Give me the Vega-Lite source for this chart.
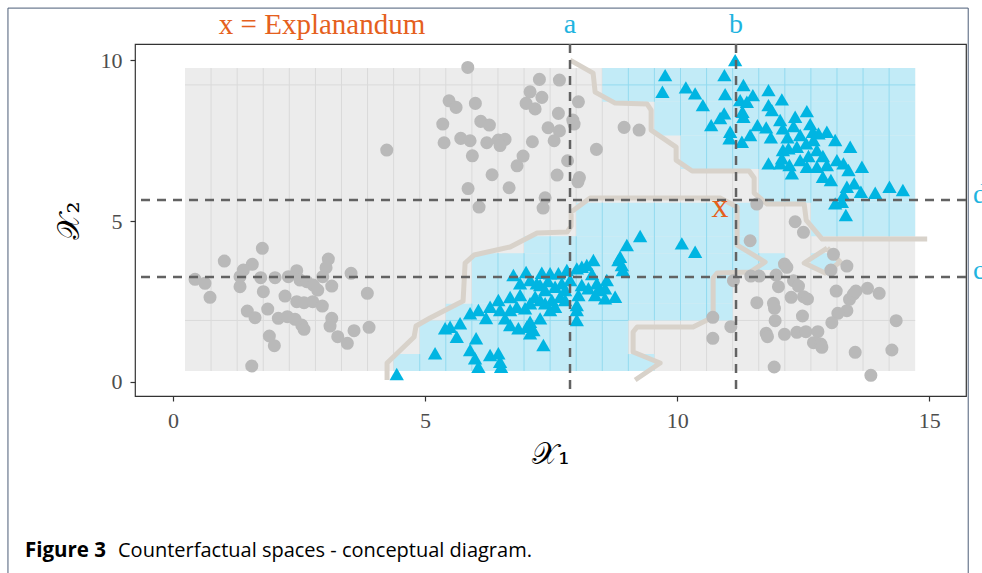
{
  "$schema": "https://vega.github.io/schema/vega-lite/v6.json",
  "width": 831,
  "height": 352,
  "autosize": {"type": "none"},
  "padding": {"left": 135, "top": 44, "right": 16, "bottom": 177},
  "background": "white",
  "config": {
    "view": {"stroke": "#333333", "strokeWidth": 1.2},
    "axisX": {"grid": false, "domain": false, "tickColor": "#333333", "tickSize": 5, "tickWidth": 1.2, "labelFont": "Liberation Serif", "labelFontSize": 22, "labelColor": "#4d4d4d", "labelPadding": 9, "titleFont": "DejaVu Serif", "titleFontSize": 30, "titleFontWeight": "normal", "titleColor": "#000000", "titlePadding": 8},
    "axisY": {"grid": false, "domain": false, "tickColor": "#333333", "tickSize": 5, "tickWidth": 1.2, "labelFont": "Liberation Serif", "labelFontSize": 22, "labelColor": "#4d4d4d", "labelPadding": 8, "titleFont": "DejaVu Serif", "titleFontSize": 30, "titleFontWeight": "normal", "titleColor": "#000000", "titlePadding": 16}
  },
  "datasets": {
    "bg": [{"x1": 0.238, "x2": 14.722, "y1": 0.343, "y2": 9.752}],
    "cyantiles": [
      {"x1": 8.515, "x2": 14.722, "y1": 8.707, "y2": 9.752},
      {"x1": 9.549, "x2": 14.722, "y1": 7.661, "y2": 8.707},
      {"x1": 10.067, "x2": 14.722, "y1": 6.616, "y2": 7.661},
      {"x1": 11.619, "x2": 14.722, "y1": 5.570, "y2": 6.616},
      {"x1": 12.653, "x2": 14.722, "y1": 4.525, "y2": 5.570},
      {"x1": 7.998, "x2": 11.619, "y1": 4.525, "y2": 5.570},
      {"x1": 6.963, "x2": 11.619, "y1": 4.002, "y2": 4.525},
      {"x1": 5.928, "x2": 12.136, "y1": 3.480, "y2": 4.002},
      {"x1": 5.928, "x2": 11.101, "y1": 2.434, "y2": 3.480},
      {"x1": 5.411, "x2": 11.101, "y1": 1.912, "y2": 2.434},
      {"x1": 4.894, "x2": 9.032, "y1": 0.866, "y2": 1.912},
      {"x1": 4.376, "x2": 9.549, "y1": 0.343, "y2": 0.866},
      {"x1": 12.653, "x2": 13.171, "y1": 3.480, "y2": 4.002}
    ],
    "grid": [
      {"x": 0.755, "x2": 0.755, "y": 9.752, "y2": 0.343, "t": "g"},
      {"x": 1.273, "x2": 1.273, "y": 9.752, "y2": 0.343, "t": "g"},
      {"x": 1.790, "x2": 1.790, "y": 9.752, "y2": 0.343, "t": "g"},
      {"x": 2.307, "x2": 2.307, "y": 9.752, "y2": 0.343, "t": "g"},
      {"x": 2.825, "x2": 2.825, "y": 9.752, "y2": 0.343, "t": "g"},
      {"x": 3.342, "x2": 3.342, "y": 9.752, "y2": 0.343, "t": "g"},
      {"x": 3.859, "x2": 3.859, "y": 9.752, "y2": 0.343, "t": "g"},
      {"x": 4.376, "x2": 4.376, "y": 9.752, "y2": 0.343, "t": "g"},
      {"x": 4.894, "x2": 4.894, "y": 9.752, "y2": 0.343, "t": "g"},
      {"x": 5.411, "x2": 5.411, "y": 9.752, "y2": 0.343, "t": "g"},
      {"x": 5.928, "x2": 5.928, "y": 9.752, "y2": 0.343, "t": "g"},
      {"x": 6.446, "x2": 6.446, "y": 9.752, "y2": 0.343, "t": "g"},
      {"x": 6.963, "x2": 6.963, "y": 9.752, "y2": 0.343, "t": "g"},
      {"x": 7.480, "x2": 7.480, "y": 9.752, "y2": 0.343, "t": "g"},
      {"x": 7.998, "x2": 7.998, "y": 9.752, "y2": 0.343, "t": "g"},
      {"x": 8.515, "x2": 8.515, "y": 9.752, "y2": 0.343, "t": "g"},
      {"x": 9.032, "x2": 9.032, "y": 9.752, "y2": 0.343, "t": "g"},
      {"x": 9.549, "x2": 9.549, "y": 9.752, "y2": 0.343, "t": "g"},
      {"x": 10.067, "x2": 10.067, "y": 9.752, "y2": 0.343, "t": "g"},
      {"x": 10.584, "x2": 10.584, "y": 9.752, "y2": 0.343, "t": "g"},
      {"x": 11.101, "x2": 11.101, "y": 9.752, "y2": 0.343, "t": "g"},
      {"x": 11.619, "x2": 11.619, "y": 9.752, "y2": 0.343, "t": "g"},
      {"x": 12.136, "x2": 12.136, "y": 9.752, "y2": 0.343, "t": "g"},
      {"x": 12.653, "x2": 12.653, "y": 9.752, "y2": 0.343, "t": "g"},
      {"x": 13.171, "x2": 13.171, "y": 9.752, "y2": 0.343, "t": "g"},
      {"x": 13.688, "x2": 13.688, "y": 9.752, "y2": 0.343, "t": "g"},
      {"x": 14.205, "x2": 14.205, "y": 9.752, "y2": 0.343, "t": "g"},
      {"x": 0.238, "x2": 14.722, "y": 9.229, "y2": 9.229, "t": "g"},
      {"x": 0.238, "x2": 14.722, "y": 1.912, "y2": 1.912, "t": "g"},
      {"x": 4.894, "x2": 4.894, "y": 0.866, "y2": 0.343, "t": "c"},
      {"x": 5.411, "x2": 5.411, "y": 1.912, "y2": 0.343, "t": "c"},
      {"x": 5.928, "x2": 5.928, "y": 2.434, "y2": 0.343, "t": "c"},
      {"x": 6.446, "x2": 6.446, "y": 4.002, "y2": 0.343, "t": "c"},
      {"x": 6.963, "x2": 6.963, "y": 4.002, "y2": 0.343, "t": "c"},
      {"x": 7.480, "x2": 7.480, "y": 4.525, "y2": 0.343, "t": "c"},
      {"x": 7.998, "x2": 7.998, "y": 4.525, "y2": 0.343, "t": "c"},
      {"x": 8.515, "x2": 8.515, "y": 5.570, "y2": 0.343, "t": "c"},
      {"x": 9.032, "x2": 9.032, "y": 9.752, "y2": 8.707, "t": "c"},
      {"x": 9.032, "x2": 9.032, "y": 5.570, "y2": 1.912, "t": "c"},
      {"x": 9.032, "x2": 9.032, "y": 0.866, "y2": 0.343, "t": "c"},
      {"x": 9.549, "x2": 9.549, "y": 9.752, "y2": 8.707, "t": "c"},
      {"x": 9.549, "x2": 9.549, "y": 5.570, "y2": 1.912, "t": "c"},
      {"x": 10.067, "x2": 10.067, "y": 9.752, "y2": 7.661, "t": "c"},
      {"x": 10.067, "x2": 10.067, "y": 5.570, "y2": 1.912, "t": "c"},
      {"x": 10.584, "x2": 10.584, "y": 9.752, "y2": 6.616, "t": "c"},
      {"x": 10.584, "x2": 10.584, "y": 5.570, "y2": 1.912, "t": "c"},
      {"x": 11.101, "x2": 11.101, "y": 9.752, "y2": 6.616, "t": "c"},
      {"x": 11.101, "x2": 11.101, "y": 5.570, "y2": 3.480, "t": "c"},
      {"x": 11.619, "x2": 11.619, "y": 9.752, "y2": 6.616, "t": "c"},
      {"x": 11.619, "x2": 11.619, "y": 4.002, "y2": 3.480, "t": "c"},
      {"x": 12.136, "x2": 12.136, "y": 9.752, "y2": 5.570, "t": "c"},
      {"x": 12.653, "x2": 12.653, "y": 9.752, "y2": 5.570, "t": "c"},
      {"x": 13.171, "x2": 13.171, "y": 9.752, "y2": 4.525, "t": "c"},
      {"x": 13.688, "x2": 13.688, "y": 9.752, "y2": 4.525, "t": "c"},
      {"x": 14.205, "x2": 14.205, "y": 9.752, "y2": 4.525, "t": "c"},
      {"x": 8.515, "x2": 14.722, "y": 9.229, "y2": 9.229, "t": "c"},
      {"x": 5.411, "x2": 9.032, "y": 1.912, "y2": 1.912, "t": "c"}
    ],
    "contours": [
      {"p": "A", "o": 1, "x": 7.877, "y": 10.0}, {"p": "A", "o": 2, "x": 8.333, "y": 9.596}, {"p": "A", "o": 3, "x": 8.373, "y": 9.006}, {"p": "A", "o": 4, "x": 8.770, "y": 8.665}, {"p": "A", "o": 5, "x": 9.405, "y": 8.634}, {"p": "A", "o": 6, "x": 9.484, "y": 8.447}, {"p": "A", "o": 7, "x": 9.484, "y": 7.826}, {"p": "A", "o": 8, "x": 9.980, "y": 7.298}, {"p": "A", "o": 9, "x": 9.980, "y": 6.894}, {"p": "A", "o": 10, "x": 10.298, "y": 6.553}, {"p": "A", "o": 11, "x": 11.429, "y": 6.553}, {"p": "A", "o": 12, "x": 11.528, "y": 6.335}, {"p": "A", "o": 13, "x": 11.528, "y": 5.870}, {"p": "A", "o": 14, "x": 11.786, "y": 5.528}, {"p": "A", "o": 15, "x": 12.520, "y": 5.528}, {"p": "A", "o": 16, "x": 12.560, "y": 5.031}, {"p": "A", "o": 17, "x": 12.877, "y": 4.441}, {"p": "A", "o": 18, "x": 14.960, "y": 4.441},
      {"p": "B", "o": 1, "x": 4.246, "y": 0.062}, {"p": "B", "o": 2, "x": 4.246, "y": 0.590}, {"p": "B", "o": 3, "x": 4.782, "y": 1.398}, {"p": "B", "o": 4, "x": 4.821, "y": 1.739}, {"p": "B", "o": 5, "x": 5.099, "y": 1.988}, {"p": "B", "o": 6, "x": 5.754, "y": 2.516}, {"p": "B", "o": 7, "x": 5.794, "y": 3.696}, {"p": "B", "o": 8, "x": 5.972, "y": 3.944}, {"p": "B", "o": 9, "x": 6.687, "y": 4.193}, {"p": "B", "o": 10, "x": 7.222, "y": 4.627}, {"p": "B", "o": 11, "x": 7.817, "y": 4.658}, {"p": "B", "o": 12, "x": 7.897, "y": 4.845}, {"p": "B", "o": 13, "x": 7.897, "y": 5.280}, {"p": "B", "o": 14, "x": 8.274, "y": 5.714}, {"p": "B", "o": 15, "x": 10.853, "y": 5.714}, {"p": "B", "o": 16, "x": 11.190, "y": 5.435}, {"p": "B", "o": 17, "x": 11.190, "y": 4.255}, {"p": "B", "o": 18, "x": 11.746, "y": 3.727}, {"p": "B", "o": 19, "x": 11.448, "y": 3.416}, {"p": "B", "o": 20, "x": 10.794, "y": 3.385}, {"p": "B", "o": 21, "x": 10.714, "y": 3.230}, {"p": "B", "o": 22, "x": 10.714, "y": 2.019}, {"p": "B", "o": 23, "x": 10.317, "y": 1.708}, {"p": "B", "o": 24, "x": 9.206, "y": 1.708}, {"p": "B", "o": 25, "x": 9.127, "y": 1.553}, {"p": "B", "o": 26, "x": 9.127, "y": 0.932}, {"p": "B", "o": 27, "x": 9.663, "y": 0.590}, {"p": "B", "o": 28, "x": 9.167, "y": 0.062},
      {"p": "C", "o": 1, "x": 12.976, "y": 4.161}, {"p": "C", "o": 2, "x": 12.520, "y": 3.696}, {"p": "C", "o": 3, "x": 12.937, "y": 3.385}, {"p": "C", "o": 4, "x": 13.234, "y": 3.727}, {"p": "C", "o": 5, "x": 12.976, "y": 4.161}
    ],
    "greypts": [
      {"x": 5.847, "y": 9.773}, {"x": 5.476, "y": 8.736}, {"x": 5.615, "y": 8.531}, {"x": 5.998, "y": 8.655}, {"x": 5.351, "y": 8.012}, {"x": 6.105, "y": 8.096}, {"x": 6.276, "y": 7.981}, {"x": 5.377, "y": 7.432}, {"x": 5.708, "y": 7.568}, {"x": 5.893, "y": 7.494}, {"x": 6.224, "y": 7.432}, {"x": 6.454, "y": 7.516}, {"x": 6.587, "y": 7.537}, {"x": 6.488, "y": 7.345}, {"x": 5.938, "y": 7.028}, {"x": 7.129, "y": 7.463}, {"x": 6.944, "y": 7.019}, {"x": 6.825, "y": 6.717}, {"x": 6.329, "y": 6.438}, {"x": 5.853, "y": 6.009}, {"x": 6.667, "y": 6.034}, {"x": 4.240, "y": 7.205}, {"x": 7.268, "y": 9.401}, {"x": 7.665, "y": 9.379}, {"x": 7.083, "y": 9.016}, {"x": 7.317, "y": 8.842}, {"x": 7.004, "y": 8.655}, {"x": 7.183, "y": 8.484}, {"x": 7.645, "y": 8.345}, {"x": 8.042, "y": 8.705}, {"x": 7.931, "y": 8.137}, {"x": 7.956, "y": 8.012}, {"x": 7.440, "y": 7.898}, {"x": 7.665, "y": 7.801}, {"x": 7.560, "y": 7.494}, {"x": 8.399, "y": 7.227}, {"x": 7.827, "y": 6.873}, {"x": 7.619, "y": 6.429}, {"x": 8.062, "y": 6.351}, {"x": 8.032, "y": 6.220}, {"x": 7.381, "y": 5.720}, {"x": 7.341, "y": 5.404}, {"x": 6.071, "y": 5.435}, {"x": 8.948, "y": 7.910}, {"x": 9.246, "y": 7.826},
      {"x": 1.772, "y": 4.152}, {"x": 1.018, "y": 3.758}, {"x": 1.573, "y": 3.655}, {"x": 1.395, "y": 3.478}, {"x": 1.329, "y": 3.270}, {"x": 0.437, "y": 3.189}, {"x": 0.635, "y": 3.065}, {"x": 0.734, "y": 2.630}, {"x": 1.740, "y": 3.239}, {"x": 2.024, "y": 3.239}, {"x": 2.288, "y": 3.270}, {"x": 2.454, "y": 3.457}, {"x": 2.520, "y": 3.168}, {"x": 2.653, "y": 3.115}, {"x": 3.081, "y": 3.820}, {"x": 3.036, "y": 3.550}, {"x": 2.970, "y": 3.270}, {"x": 2.784, "y": 3.012}, {"x": 2.871, "y": 2.857}, {"x": 3.149, "y": 2.981}, {"x": 3.532, "y": 3.376}, {"x": 3.855, "y": 2.755}, {"x": 1.329, "y": 2.960}, {"x": 1.792, "y": 2.804}, {"x": 2.222, "y": 2.671}, {"x": 2.454, "y": 2.494}, {"x": 2.599, "y": 2.463}, {"x": 2.772, "y": 2.494}, {"x": 2.962, "y": 2.360}, {"x": 1.474, "y": 2.205}, {"x": 1.627, "y": 1.997}, {"x": 1.879, "y": 2.267}, {"x": 2.089, "y": 1.978}, {"x": 2.268, "y": 2.028}, {"x": 2.421, "y": 1.947}, {"x": 2.554, "y": 1.770}, {"x": 2.599, "y": 1.637}, {"x": 3.149, "y": 1.978}, {"x": 3.115, "y": 1.739}, {"x": 3.591, "y": 1.593}, {"x": 3.889, "y": 1.699}, {"x": 1.911, "y": 1.429}, {"x": 2.010, "y": 1.127}, {"x": 3.268, "y": 1.407}, {"x": 3.458, "y": 1.202}, {"x": 1.562, "y": 0.497},
      {"x": 11.581, "y": 5.528}, {"x": 12.341, "y": 4.978}, {"x": 12.506, "y": 4.649}, {"x": 11.448, "y": 4.388}, {"x": 13.101, "y": 3.966}, {"x": 13.367, "y": 3.602}, {"x": 13.050, "y": 3.478}, {"x": 12.129, "y": 3.665}, {"x": 12.177, "y": 3.562}, {"x": 11.964, "y": 3.323}, {"x": 11.462, "y": 3.292}, {"x": 11.627, "y": 3.292}, {"x": 11.117, "y": 3.146}, {"x": 12.010, "y": 2.960}, {"x": 12.308, "y": 3.146}, {"x": 12.407, "y": 2.981}, {"x": 12.262, "y": 2.630}, {"x": 12.506, "y": 2.649}, {"x": 12.585, "y": 2.578}, {"x": 11.581, "y": 2.463}, {"x": 11.911, "y": 2.444}, {"x": 11.931, "y": 2.289}, {"x": 11.944, "y": 1.904}, {"x": 12.486, "y": 2.050}, {"x": 13.155, "y": 2.826}, {"x": 13.419, "y": 2.568}, {"x": 13.498, "y": 2.733}, {"x": 13.546, "y": 2.826}, {"x": 13.776, "y": 2.910}, {"x": 14.008, "y": 2.755}, {"x": 13.367, "y": 2.214}, {"x": 13.188, "y": 2.134}, {"x": 13.069, "y": 1.842}, {"x": 14.345, "y": 1.904}, {"x": 10.708, "y": 2.009}, {"x": 10.708, "y": 1.357}, {"x": 11.065, "y": 1.717}, {"x": 11.766, "y": 1.512}, {"x": 11.792, "y": 1.407}, {"x": 12.129, "y": 1.481}, {"x": 12.375, "y": 1.543}, {"x": 12.554, "y": 1.562}, {"x": 12.792, "y": 1.562}, {"x": 12.704, "y": 1.220}, {"x": 12.851, "y": 1.180}, {"x": 12.871, "y": 1.078}, {"x": 13.532, "y": 0.922}, {"x": 14.260, "y": 0.994}, {"x": 11.925, "y": 0.466}, {"x": 13.843, "y": 0.208}
    ],
    "cyanpts": [
      {"x": 11.151, "y": 10.0}, {"x": 10.938, "y": 9.534}, {"x": 10.952, "y": 8.944}, {"x": 11.315, "y": 9.224}, {"x": 11.502, "y": 8.913}, {"x": 11.812, "y": 9.068}, {"x": 12.077, "y": 8.780}, {"x": 10.510, "y": 8.602}, {"x": 10.933, "y": 8.345}, {"x": 11.250, "y": 8.758}, {"x": 11.383, "y": 8.705}, {"x": 11.296, "y": 8.394}, {"x": 11.812, "y": 8.602}, {"x": 11.879, "y": 8.447}, {"x": 11.315, "y": 8.239}, {"x": 10.675, "y": 7.981}, {"x": 11.052, "y": 7.773}, {"x": 11.038, "y": 7.568}, {"x": 11.284, "y": 7.463}, {"x": 11.448, "y": 7.671}, {"x": 11.593, "y": 7.981}, {"x": 11.766, "y": 7.910}, {"x": 12.044, "y": 8.137}, {"x": 12.097, "y": 7.879}, {"x": 12.341, "y": 8.239}, {"x": 12.573, "y": 8.416}, {"x": 12.308, "y": 7.950}, {"x": 11.859, "y": 7.599}, {"x": 12.188, "y": 7.599}, {"x": 12.639, "y": 8.012}, {"x": 12.692, "y": 7.773}, {"x": 12.440, "y": 7.671}, {"x": 12.804, "y": 7.724}, {"x": 12.970, "y": 7.773}, {"x": 13.135, "y": 7.516}, {"x": 13.433, "y": 7.307}, {"x": 12.704, "y": 7.516}, {"x": 12.560, "y": 7.413}, {"x": 12.375, "y": 7.307}, {"x": 12.097, "y": 7.205}, {"x": 12.208, "y": 7.258}, {"x": 12.077, "y": 6.947}, {"x": 12.772, "y": 7.205}, {"x": 12.891, "y": 7.019}, {"x": 12.605, "y": 7.019}, {"x": 12.440, "y": 6.894}, {"x": 12.228, "y": 6.739}, {"x": 11.812, "y": 6.792}, {"x": 12.044, "y": 6.792}, {"x": 12.276, "y": 6.481}, {"x": 12.573, "y": 6.686}, {"x": 12.772, "y": 6.686}, {"x": 13.169, "y": 6.894}, {"x": 12.970, "y": 6.739}, {"x": 13.299, "y": 6.792}, {"x": 13.399, "y": 6.584}, {"x": 13.665, "y": 6.686}, {"x": 12.891, "y": 6.376}, {"x": 13.050, "y": 6.273}, {"x": 13.367, "y": 6.065}, {"x": 13.512, "y": 6.171}, {"x": 13.645, "y": 5.910}, {"x": 13.929, "y": 5.879}, {"x": 14.212, "y": 6.065}, {"x": 13.299, "y": 5.807}, {"x": 13.135, "y": 5.550}, {"x": 13.268, "y": 5.599}, {"x": 13.347, "y": 5.186}, {"x": 14.478, "y": 5.963}, {"x": 9.762, "y": 9.534}, {"x": 9.708, "y": 9.016}, {"x": 10.173, "y": 9.152}, {"x": 10.357, "y": 8.966}, {"x": 10.853, "y": 8.199},
      {"x": 9.266, "y": 4.534}, {"x": 9.002, "y": 4.255}, {"x": 8.835, "y": 3.789}, {"x": 8.903, "y": 3.634}, {"x": 8.923, "y": 3.478}, {"x": 8.339, "y": 3.789}, {"x": 8.208, "y": 3.634}, {"x": 8.109, "y": 3.581}, {"x": 8.010, "y": 3.531}, {"x": 7.812, "y": 3.478}, {"x": 7.645, "y": 3.376}, {"x": 7.480, "y": 3.376}, {"x": 7.315, "y": 3.394}, {"x": 6.752, "y": 3.323}, {"x": 6.885, "y": 3.065}, {"x": 7.083, "y": 3.168}, {"x": 7.216, "y": 3.065}, {"x": 7.381, "y": 2.857}, {"x": 7.579, "y": 2.960}, {"x": 7.712, "y": 3.065}, {"x": 8.109, "y": 3.012}, {"x": 8.240, "y": 2.910}, {"x": 8.438, "y": 2.857}, {"x": 8.571, "y": 2.910}, {"x": 8.407, "y": 3.065}, {"x": 8.605, "y": 3.168}, {"x": 8.770, "y": 2.649}, {"x": 8.571, "y": 2.599}, {"x": 8.373, "y": 2.702}, {"x": 8.042, "y": 2.702}, {"x": 8.010, "y": 2.391}, {"x": 8.010, "y": 2.236}, {"x": 8.010, "y": 1.925}, {"x": 7.679, "y": 2.649}, {"x": 7.514, "y": 2.547}, {"x": 7.381, "y": 2.444}, {"x": 7.183, "y": 2.649}, {"x": 7.083, "y": 2.444}, {"x": 6.984, "y": 2.289}, {"x": 6.819, "y": 2.339}, {"x": 6.687, "y": 2.236}, {"x": 6.454, "y": 2.547}, {"x": 6.290, "y": 2.339}, {"x": 6.058, "y": 2.236}, {"x": 5.893, "y": 2.134}, {"x": 6.587, "y": 1.978}, {"x": 6.687, "y": 1.770}, {"x": 6.851, "y": 1.668}, {"x": 7.018, "y": 1.717}, {"x": 7.083, "y": 1.873}, {"x": 7.282, "y": 1.978}, {"x": 7.480, "y": 2.236}, {"x": 7.579, "y": 2.339}, {"x": 5.694, "y": 1.823}, {"x": 5.496, "y": 1.717}, {"x": 5.397, "y": 1.668}, {"x": 5.629, "y": 1.407}, {"x": 6.012, "y": 1.357}, {"x": 5.893, "y": 0.994}, {"x": 5.992, "y": 0.736}, {"x": 6.058, "y": 0.475}, {"x": 6.290, "y": 0.839}, {"x": 6.454, "y": 0.891}, {"x": 6.488, "y": 0.630}, {"x": 6.508, "y": 0.475}, {"x": 7.347, "y": 1.149}, {"x": 5.198, "y": 0.891}, {"x": 7.083, "y": 1.512}, {"x": 7.149, "y": 1.615}, {"x": 10.093, "y": 4.307}, {"x": 10.357, "y": 4.047}, {"x": 4.438, "y": 0.248}, {"x": 8.869, "y": 3.891}, {"x": 7.282, "y": 3.012}, {"x": 7.778, "y": 2.857}, {"x": 7.440, "y": 3.137}, {"x": 6.885, "y": 2.702}, {"x": 6.687, "y": 2.640}, {"x": 7.877, "y": 3.168}, {"x": 8.313, "y": 3.354}, {"x": 7.004, "y": 3.416}, {"x": 7.778, "y": 2.547}, {"x": 7.282, "y": 2.547}, {"x": 6.488, "y": 2.236}, {"x": 6.210, "y": 1.988}
    ],
    "vrules": [{"x": 7.875}, {"x": 11.168}],
    "hrules": [{"y": 5.654}, {"y": 3.262}],
    "labels": [
      {"t": "x = Explanandum", "x": 2.956, "y": 11.09, "k": "orange"},
      {"t": "a", "x": 7.875, "y": 11.09, "k": "cyan"},
      {"t": "b", "x": 11.168, "y": 11.09, "k": "cyan"},
      {"t": "d", "x": 15.87, "y": 5.81, "k": "side"},
      {"t": "c", "x": 15.87, "y": 3.45, "k": "side"},
      {"t": "x", "x": 10.851, "y": 5.437, "k": "marker"},
      {"t": "Figure 3", "x": -2.937, "y": -5.25, "k": "capb"},
      {"t": "Counterfactual spaces - conceptual diagram.", "x": -1.091, "y": -5.25, "k": "cap"}
    ],
    "frame": [{"x1": -3.274, "x2": 15.774, "y1": -7.5, "y2": 11.615}]
  },
  "layer": [
    {
      "data": {"name": "bg"},
      "mark": {"type": "rect", "color": "#ececec"},
      "encoding": {
        "x": {"field": "x1", "type": "quantitative", "scale": {"domain": [-0.754, 15.73], "nice": false, "zero": false}, "axis": {"values": [0, 5, 10, 15]}, "title": "𝒳₁"},
        "x2": {"field": "x2"},
        "y": {"field": "y1", "type": "quantitative", "scale": {"domain": [-0.435, 10.5], "nice": false, "zero": false}, "axis": {"values": [0, 5, 10]}, "title": "𝒳₂"},
        "y2": {"field": "y2"}
      }
    },
    {
      "data": {"name": "grid"},
      "transform": [{"filter": "datum.t === 'g'"}],
      "mark": {"type": "rule", "color": "#dadada", "strokeWidth": 1},
      "encoding": {
        "x": {"field": "x", "type": "quantitative"},
        "x2": {"field": "x2"},
        "y": {"field": "y", "type": "quantitative"},
        "y2": {"field": "y2"}
      }
    },
    {
      "data": {"name": "cyantiles"},
      "mark": {"type": "rect", "color": "#c2ebf7"},
      "encoding": {
        "x": {"field": "x1", "type": "quantitative"},
        "x2": {"field": "x2"},
        "y": {"field": "y1", "type": "quantitative"},
        "y2": {"field": "y2"}
      }
    },
    {
      "data": {"name": "grid"},
      "transform": [{"filter": "datum.t === 'c'"}],
      "mark": {"type": "rule", "color": "#93daef", "strokeWidth": 1},
      "encoding": {
        "x": {"field": "x", "type": "quantitative"},
        "x2": {"field": "x2"},
        "y": {"field": "y", "type": "quantitative"},
        "y2": {"field": "y2"}
      }
    },
    {
      "data": {"name": "contours"},
      "mark": {"type": "line", "color": "#d8d2ca", "strokeWidth": 5, "strokeJoin": "round"},
      "encoding": {
        "x": {"field": "x", "type": "quantitative"},
        "y": {"field": "y", "type": "quantitative"},
        "detail": {"field": "p"},
        "order": {"field": "o", "type": "quantitative"}
      }
    },
    {
      "data": {"name": "greypts"},
      "mark": {"type": "point", "shape": "circle", "filled": true, "size": 170, "color": "#b9b9b9", "opacity": 1},
      "encoding": {
        "x": {"field": "x", "type": "quantitative"},
        "y": {"field": "y", "type": "quantitative"}
      }
    },
    {
      "data": {"name": "cyanpts"},
      "mark": {"type": "point", "shape": "triangle-up", "filled": true, "size": 205, "color": "#00b5e2", "opacity": 1},
      "encoding": {
        "x": {"field": "x", "type": "quantitative"},
        "y": {"field": "y", "type": "quantitative"}
      }
    },
    {
      "data": {"name": "vrules"},
      "mark": {"type": "rule", "color": "#626262", "strokeWidth": 2.5, "strokeDash": [9, 7]},
      "encoding": {"x": {"field": "x", "type": "quantitative"}}
    },
    {
      "data": {"name": "hrules"},
      "mark": {"type": "rule", "color": "#626262", "strokeWidth": 2.5, "strokeDash": [9, 7]},
      "encoding": {"y": {"field": "y", "type": "quantitative"}}
    },
    {
      "data": {"name": "labels"},
      "transform": [{"filter": "datum.k === 'orange'"}],
      "mark": {"type": "text", "font": "Liberation Serif", "fontSize": 29, "color": "#e5601d", "align": "center", "baseline": "middle"},
      "encoding": {
        "x": {"field": "x", "type": "quantitative"},
        "y": {"field": "y", "type": "quantitative"},
        "text": {"field": "t"}
      }
    },
    {
      "data": {"name": "labels"},
      "transform": [{"filter": "datum.k === 'marker'"}],
      "mark": {"type": "text", "font": "Liberation Serif", "fontSize": 34, "color": "#e5601d", "align": "center", "baseline": "middle"},
      "encoding": {
        "x": {"field": "x", "type": "quantitative"},
        "y": {"field": "y", "type": "quantitative"},
        "text": {"field": "t"}
      }
    },
    {
      "data": {"name": "labels"},
      "transform": [{"filter": "datum.k === 'cyan'"}],
      "mark": {"type": "text", "font": "Liberation Serif", "fontSize": 28, "color": "#1fb4df", "align": "center", "baseline": "middle"},
      "encoding": {
        "x": {"field": "x", "type": "quantitative"},
        "y": {"field": "y", "type": "quantitative"},
        "text": {"field": "t"}
      }
    },
    {
      "data": {"name": "labels"},
      "transform": [{"filter": "datum.k === 'side'"}],
      "mark": {"type": "text", "font": "Liberation Serif", "fontSize": 28, "color": "#1fb4df", "align": "left", "baseline": "middle"},
      "encoding": {
        "x": {"field": "x", "type": "quantitative"},
        "y": {"field": "y", "type": "quantitative"},
        "text": {"field": "t"}
      }
    },
    {
      "data": {"name": "labels"},
      "transform": [{"filter": "datum.k === 'capb'"}],
      "mark": {"type": "text", "font": "Open Sans", "fontSize": 20.5, "fontWeight": "bold", "color": "#000000", "align": "left", "baseline": "middle"},
      "encoding": {
        "x": {"field": "x", "type": "quantitative"},
        "y": {"field": "y", "type": "quantitative"},
        "text": {"field": "t"}
      }
    },
    {
      "data": {"name": "labels"},
      "transform": [{"filter": "datum.k === 'cap'"}],
      "mark": {"type": "text", "font": "Open Sans", "fontSize": 20, "color": "#000000", "align": "left", "baseline": "middle"},
      "encoding": {
        "x": {"field": "x", "type": "quantitative"},
        "y": {"field": "y", "type": "quantitative"},
        "text": {"field": "t"}
      }
    },
    {
      "data": {"name": "frame"},
      "mark": {"type": "rect", "fill": null, "fillOpacity": 0, "stroke": "#4b5d78", "strokeWidth": 1},
      "encoding": {
        "x": {"field": "x1", "type": "quantitative"},
        "x2": {"field": "x2"},
        "y": {"field": "y1", "type": "quantitative"},
        "y2": {"field": "y2"}
      }
    }
  ]
}
